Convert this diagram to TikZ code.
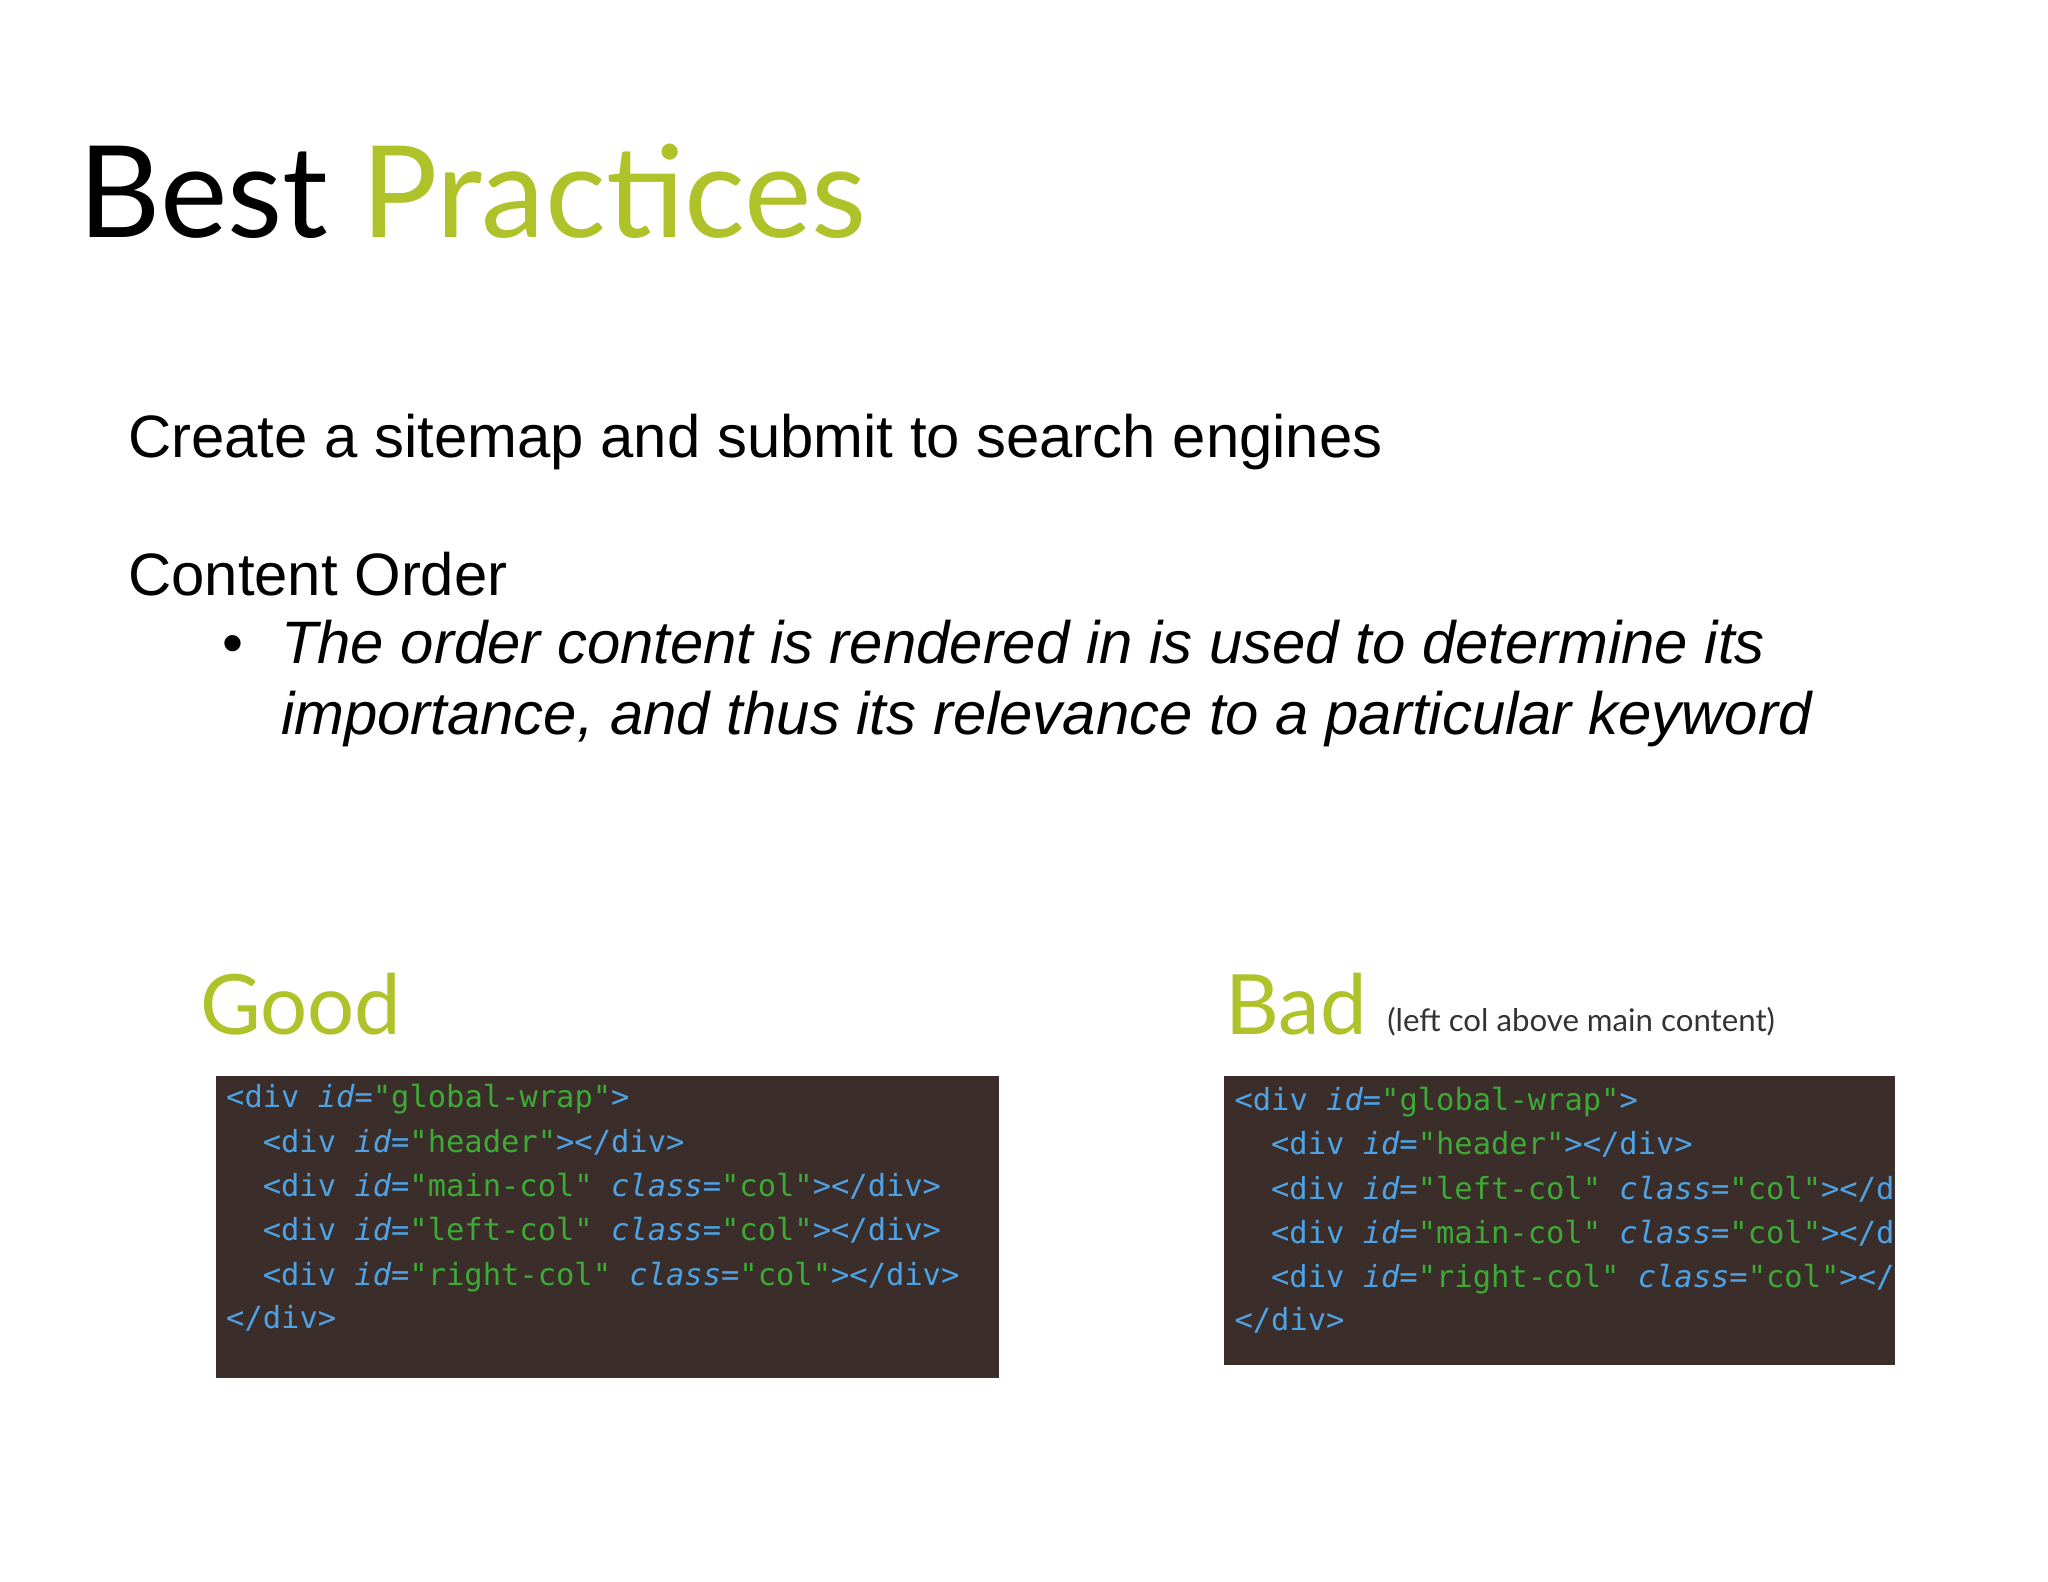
\documentclass[tikz,border=0pt]{standalone}
\usepackage{fontspec}
\setmainfont{Liberation Sans}
\newfontfamily\titlefont{Lato}
\setmonofont{DejaVu Sans Mono}
\definecolor{lime}{HTML}{AFC22A}
\definecolor{codebg}{HTML}{3B2E2A}
\definecolor{tagblue}{HTML}{4DA3E6}
\definecolor{strgreen}{HTML}{3DAA36}
\newcommand{\tg}[1]{\textcolor{tagblue}{#1}}
\newcommand{\atr}[1]{\textcolor{tagblue}{\itshape #1}}
\newcommand{\sv}[1]{\textcolor{strgreen}{#1}}
\tikzset{
 txt/.style={anchor=base west, inner sep=0pt},
 code/.style={txt, font=\ttfamily\fontsize{23.4}{30}\selectfont},
 codebox/.style={fill=codebg, draw=none}
}
\begin{document}
\begin{tikzpicture}[x=1bp,y=-1bp]
\useasboundingbox[fill=white] (0,0) rectangle (1568,1211);
\node[txt, font=\titlefont\fontsize{98}{110}\selectfont] (title) at (60,182) {Best \textcolor{lime}{Practices}};
\node[txt, font=\fontsize{46}{54}\selectfont] (l1) at (98,350) {Create a sitemap and submit to search engines};
\node[txt, font=\fontsize{46}{54}\selectfont] (l2) at (98,456) {Content Order};
\node[txt, font=\fontsize{46}{54}\selectfont] (bul) at (170,508) {\textbullet};
\node[txt, font=\itshape\fontsize{46}{54}\selectfont] (b1) at (215,508) {The order content is rendered in is used to determine its};
\node[txt, font=\itshape\fontsize{46}{54}\selectfont] (b2) at (215,562) {importance, and thus its relevance to a particular keyword};
\node[txt, font=\titlefont\fontsize{64}{70}\selectfont, text=lime] (good) at (153,792) {Good};
\node[txt, font=\titlefont\fontsize{64}{70}\selectfont, text=lime] (bad) at (938,792) {Bad};
\node[txt, font=\titlefont\fontsize{24}{28}\selectfont, text=black!80] (badnote) at (1062,790) {(left col above main content)};
\fill[codebox] (165,824) rectangle (765,1055);
\fill[codebox] (937,824) rectangle (1451,1045);
\node[code] (g1) at (173,848) {\tg{<div} \atr{id}\tg{=}\sv{"global-wrap"}\tg{>}};
\node[code] (g2) at (201,882) {\tg{<div} \atr{id}\tg{=}\sv{"header"}\tg{></div>}};
\node[code] (g3) at (201,916) {\tg{<div} \atr{id}\tg{=}\sv{"main-col"} \atr{class}\tg{=}\sv{"col"}\tg{></div>}};
\node[code] (g4) at (201,950) {\tg{<div} \atr{id}\tg{=}\sv{"left-col"} \atr{class}\tg{=}\sv{"col"}\tg{></div>}};
\node[code] (g5) at (201,984) {\tg{<div} \atr{id}\tg{=}\sv{"right-col"} \atr{class}\tg{=}\sv{"col"}\tg{></div>}};
\node[code] (g6) at (173,1017) {\tg{</div>}};
\begin{scope}
\clip (937,824) rectangle (1451,1045);
\node[code] (h1) at (945,850) {\tg{<div} \atr{id}\tg{=}\sv{"global-wrap"}\tg{>}};
\node[code] (h2) at (973,884) {\tg{<div} \atr{id}\tg{=}\sv{"header"}\tg{></div>}};
\node[code] (h3) at (973,918) {\tg{<div} \atr{id}\tg{=}\sv{"left-col"} \atr{class}\tg{=}\sv{"col"}\tg{></div>}};
\node[code] (h4) at (973,952) {\tg{<div} \atr{id}\tg{=}\sv{"main-col"} \atr{class}\tg{=}\sv{"col"}\tg{></div>}};
\node[code] (h5) at (973,986) {\tg{<div} \atr{id}\tg{=}\sv{"right-col"} \atr{class}\tg{=}\sv{"col"}\tg{></div>}};
\node[code] (h6) at (945,1019) {\tg{</div>}};
\end{scope}
\end{tikzpicture}
\end{document}
